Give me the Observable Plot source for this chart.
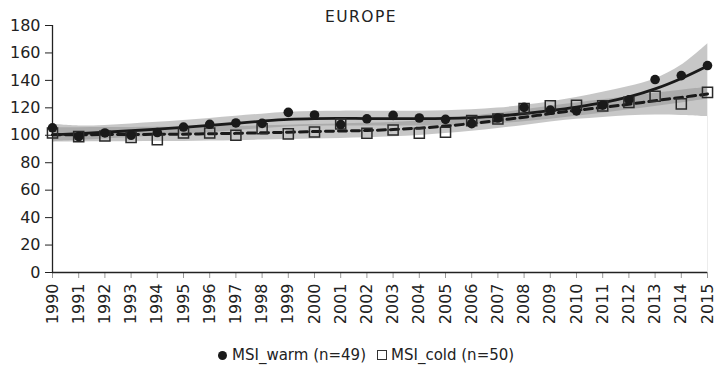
<!DOCTYPE html>
<html>
<head>
<meta charset="utf-8">
<script src="https://cdn.jsdelivr.net/npm/d3@7"></script>
<script src="https://cdn.jsdelivr.net/npm/@observablehq/plot@0.6"></script>
<style>
  html, body { margin: 0; padding: 0; background: #fff; }
  body { position: relative; width: 721px; height: 373px; overflow: hidden; font-family: "DejaVu Sans", sans-serif; color: #222; }
  #legend { position: absolute; left: 218px; top: 345px; height: 20px; display: flex; align-items: center; font-size: 15px; white-space: nowrap; }
  .dot { display: inline-block; width: 9px; height: 9px; border-radius: 50%; background: #1a1a1a; margin-right: 5px; }
  .sq { display: inline-block; width: 8px; height: 8px; border: 1.3px solid #333; margin-left: 11px; margin-right: 4px; }
</style>
</head>
<body>
<div id="chart"></div>
<div id="legend"><span class="dot"></span><span>MSI_warm (n=49)</span><span class="sq"></span><span>MSI_cold (n=50)</span></div>
<script>
const title = "EUROPE";
const years = [1990,1991,1992,1993,1994,1995,1996,1997,1998,1999,2000,2001,2002,2003,2004,2005,2006,2007,2008,2009,2010,2011,2012,2013,2014,2015];
const yTicks = [0,20,40,60,80,100,120,140,160,180];

// observed indices
const warmObs = [105.4,99,101.7,100,102,106,108,109,108.7,116.7,114.8,107.8,112,114.5,112.6,111.6,108.5,112.6,120.3,118.3,117.8,121.9,125.8,140.6,143.5,150.8];
const coldObs = [101.7,99,99.5,98.5,96.8,101.7,101.7,100,104.8,101,102.4,108.3,101.5,103.9,101.5,102.2,110.7,111.9,119.5,121.4,121.9,121.4,124,128.4,122.9,131.3];

// smoothed trends
const warmFit = [100.3,101.2,102.2,103.3,104.5,105.8,107.2,108.7,110.3,111.6,112.2,112.3,112.2,112.1,112.1,112.3,112.9,114,115.8,118,120.6,123.8,128,133.8,141.4,150.5];
const coldFit = [100.3,100.4,100.5,100.6,100.7,100.8,101.1,101.4,101.8,102.2,102.7,103.1,103.5,104.2,105.2,106.7,108.6,110.8,113.2,115.8,118.2,120.3,122.6,125.2,127.6,130.1];

// confidence bands
const warmLo = [95.5,96.3,97.2,98.3,99.4,100.6,101.9,103.3,104.8,106,106.6,106.8,106.8,106.7,106.7,106.9,107.4,108.4,109.9,111.7,113.8,116.1,118.6,121,123.6,126.5];
const warmHi = [108,106.8,107.2,108.3,109.5,110.8,112.2,113.8,115.4,116.8,117.4,117.6,117.6,117.5,117.6,117.9,118.6,119.8,121.8,124.3,127.5,131.3,135.5,141,151,166.6];
const coldLo = [95,95.1,95.2,95.3,95.4,95.5,95.8,96.1,96.5,96.9,97.3,97.7,98.2,98.9,99.9,101.3,103,105,107.2,109.6,111.6,113,114.2,114.8,114.5,113.6];
const coldHi = [105.5,105.5,105.6,105.7,105.8,105.9,106.2,106.5,106.9,107.3,107.8,108.2,108.7,109.4,110.4,111.9,113.8,116,118.6,121.2,123.6,125.8,128.2,130.6,132.8,135];

const rows = years.map((year, i) => ({
  year,
  warm: warmObs[i], cold: coldObs[i],
  warmFit: warmFit[i], coldFit: coldFit[i],
  warmLo: warmLo[i], warmHi: warmHi[i],
  coldLo: coldLo[i], coldHi: coldHi[i]
}));

const curve = "catmull-rom";
const ink = "#1a1a1a";

const chart = Plot.plot({
  width: 721,
  height: 332,
  marginLeft: 52,
  marginRight: 14,
  marginTop: 25,
  marginBottom: 60,
  style: { fontFamily: "DejaVu Sans, sans-serif", fontSize: "16px", color: "#222", background: "#fff" },
  x: { domain: [1990, 2015], label: null },
  y: { domain: [0, 180], label: null },
  marks: [
    Plot.areaY(rows, { x: "year", y1: "warmLo", y2: "warmHi", fill: "#8f8f8f", fillOpacity: 0.5, curve }),
    Plot.areaY(rows, { x: "year", y1: "coldLo", y2: "coldHi", fill: "#8f8f8f", fillOpacity: 0.5, curve }),
    Plot.ruleX([years[years.length - 1]], { y1: 0, y2: warmHi[warmHi.length - 1], stroke: "#ececec", strokeWidth: 1 }),
    Plot.axisX({ ticks: years, tickFormat: d => String(d), tickRotate: -90, tickSize: 6, tickPadding: 5, stroke: "#999", fill: "#222", label: null }),
    Plot.axisY({ ticks: yTicks, tickSize: 7, tickPadding: 5, stroke: "#222", fill: "#222", label: null }),
    Plot.ruleX([1990], { y1: 0, y2: 180, stroke: "#222", strokeWidth: 1.3 }),
    Plot.ruleY([0], { stroke: "#222", strokeWidth: 1.3 }),
    Plot.line(rows, { x: "year", y: "coldFit", stroke: ink, strokeWidth: 3, strokeDasharray: "8,5", curve }),
    Plot.line(rows, { x: "year", y: "warmFit", stroke: ink, strokeWidth: 2.8, curve }),
    Plot.dot(rows, { x: "year", y: "cold", symbol: "square", r: 5.7, stroke: "#2a2a2a", strokeWidth: 1.5, fill: "none" }),
    Plot.dot(rows, { x: "year", y: "warm", symbol: "circle", r: 4.8, fill: ink, stroke: "none" })
  ]
});

document.getElementById("chart").appendChild(chart);

d3.select(chart).append("text")
  .attr("x", 361)
  .attr("y", 21.5)
  .attr("text-anchor", "middle")
  .attr("fill", "#222")
  .style("font-family", "DejaVu Sans, sans-serif")
  .style("font-size", "15.5px")
  .style("letter-spacing", "1.5px")
  .text(title);
</script>
</body>
</html>
